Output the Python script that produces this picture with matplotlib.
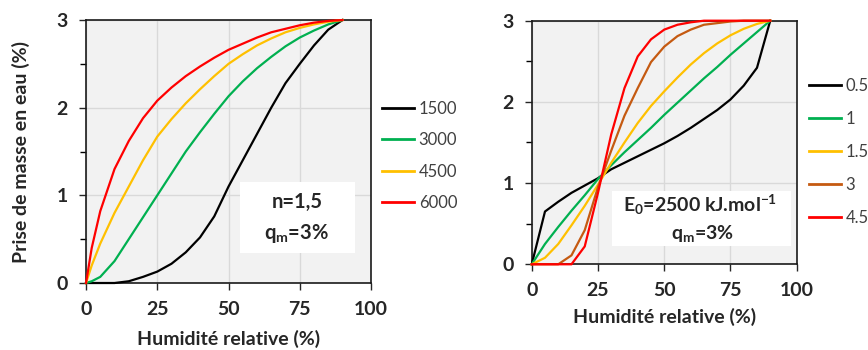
import matplotlib
matplotlib.use("Agg")
import matplotlib.pyplot as plt
from matplotlib.patches import Rectangle
from matplotlib.ticker import MultipleLocator

plt.rcParams["font.family"] = ["Lato", "DejaVu Sans"]
plt.rcParams["mathtext.fontset"] = "custom"
plt.rcParams["mathtext.rm"] = "Lato:bold"
plt.rcParams["mathtext.bf"] = "Lato:bold"
plt.rcParams["mathtext.it"] = "Lato:bold:italic"

# ---- left panel: n = 1.5, varying E0 ----
rh_left = [0, 2, 5, 10, 15, 20, 25, 30, 35, 40, 45, 50, 55, 60, 65, 70, 75, 80, 85, 90]
left_labels = ["1500", "3000", "4500", "6000"]
left_series = [
    [0, 0, 0, 0.0, 0.02, 0.07, 0.13, 0.22, 0.35, 0.52, 0.76, 1.1, 1.4, 1.7, 2.0, 2.28, 2.5, 2.71, 2.89, 3.0],
    [0, 0.02, 0.07, 0.25, 0.5, 0.75, 1.0, 1.25, 1.5, 1.72, 1.93, 2.13, 2.3, 2.45, 2.58, 2.7, 2.8, 2.88, 2.95, 3.0],
    [0, 0.2, 0.45, 0.8, 1.1, 1.4, 1.67, 1.87, 2.05, 2.21, 2.36, 2.5, 2.61, 2.71, 2.79, 2.86, 2.91, 2.95, 2.98, 3.0],
    [0, 0.4, 0.82, 1.3, 1.62, 1.88, 2.08, 2.23, 2.36, 2.47, 2.57, 2.66, 2.73, 2.8, 2.86, 2.9, 2.94, 2.97, 2.99, 3.0],
]
left_colors = ["#000000", "#00B050", "#FFC000", "#FF0000"]

# ---- right panel: E0 = 2500, varying n ----
rh_right = [0, 5, 10, 15, 20, 25, 30, 35, 40, 45, 50, 55, 60, 65, 70, 75, 80, 85, 90]
right_labels = ["0.5", "1", "1.5", "3", "4.5"]
right_series = [
    [0, 0.65, 0.77, 0.88, 0.97, 1.06, 1.17, 1.25, 1.33, 1.41, 1.49, 1.58, 1.68, 1.79, 1.9, 2.03, 2.2, 2.42, 3.0],
    [0, 0.25, 0.46, 0.66, 0.85, 1.05, 1.22, 1.38, 1.53, 1.68, 1.84, 1.99, 2.14, 2.29, 2.43, 2.58, 2.72, 2.86, 3.0],
    [0, 0.08, 0.25, 0.48, 0.72, 0.98, 1.25, 1.5, 1.74, 1.95, 2.13, 2.3, 2.46, 2.6, 2.72, 2.82, 2.9, 2.96, 3.0],
    [0, 0, 0, 0.11, 0.42, 0.95, 1.4, 1.83, 2.17, 2.49, 2.68, 2.81, 2.89, 2.95, 2.97, 2.99, 3.0, 3.0, 3.0],
    [0, 0, 0, 0, 0.22, 0.88, 1.6, 2.17, 2.56, 2.77, 2.89, 2.95, 2.98, 3.0, 3.0, 3.0, 3.0, 3.0, 3.0],
]
right_colors = ["#000000", "#00B050", "#FFC000", "#C55A11", "#FF0000"]

TICK_COLOR = "#262626"


def style_axes(ax):
    ax.set_facecolor("#F2F2F2")
    ax.set_xlim(0, 100)
    ax.set_ylim(0, 3)
    ax.xaxis.set_major_locator(MultipleLocator(25))
    ax.yaxis.set_major_locator(MultipleLocator(1))
    ax.yaxis.set_minor_locator(MultipleLocator(0.5))
    ax.grid(True, which="major", color="#D9D9D9", linewidth=1.0, zorder=0)
    ax.set_axisbelow(True)
    for sp in ax.spines.values():
        sp.set_color("#1a1a1a")
        sp.set_linewidth(1.2)
    ax.tick_params(axis="both", which="major", direction="out", length=5, width=1,
                   labelsize=14, colors=TICK_COLOR)
    ax.tick_params(axis="x", pad=8)
    ax.tick_params(axis="y", pad=8)
    ax.tick_params(axis="y", which="minor", direction="out", length=4, width=1)
    for lab in ax.get_xticklabels() + ax.get_yticklabels():
        lab.set_fontweight("bold")


fig = plt.figure(figsize=(8.68, 3.5), dpi=100)
ax1 = fig.add_axes([0.0991, 0.1914, 0.3283, 0.7514])
ax2 = fig.add_axes([0.6126, 0.2449, 0.3053, 0.696])

for ax in (ax1, ax2):
    style_axes(ax)

for vals, lab, col in zip(left_series, left_labels, left_colors):
    ax1.plot(rh_left, vals, color=col, linewidth=1.6, label=lab, zorder=3, clip_on=False)
for vals, lab, col in zip(right_series, right_labels, right_colors):
    ax2.plot(rh_right, vals, color=col, linewidth=1.6, label=lab, zorder=3, clip_on=False)

# annotation boxes
ax1.add_patch(Rectangle((54, 0.34), 40.4, 0.81, facecolor="white", edgecolor="none", zorder=2))
ax1.text(74, 0.93, "n=1,5", ha="center", va="center", fontsize=14.5, fontweight="bold",
         color=TICK_COLOR, zorder=4)
ax1.text(74, 0.57, "q$_\\mathrm{m}$=3%", ha="center", va="center", fontsize=14.5,
         fontweight="bold", color=TICK_COLOR, zorder=4)

ax2.add_patch(Rectangle((30.3, 0.225), 67.5, 0.675, facecolor="white", edgecolor="none", zorder=2))
ax2.text(63.5, 0.73, "E$_\\mathrm{0}$=2500 kJ.mol$^\\mathrm{-1}$", ha="center", va="center",
         fontsize=14, fontweight="bold", color=TICK_COLOR, zorder=4)
ax2.text(64.3, 0.38, "q$_\\mathrm{m}$=3%", ha="center", va="center", fontsize=14,
         fontweight="bold", color=TICK_COLOR, zorder=4)

# axis labels
ax1.set_ylabel("Prise de masse en eau (%)", fontsize=14, fontweight="bold", color=TICK_COLOR)
ax1.yaxis.set_label_coords(-0.196, 0.5)
ax1.set_xlabel("Humidité relative (%)", fontsize=14, fontweight="bold", color=TICK_COLOR)
ax1.xaxis.set_label_coords(0.5, -0.18)
ax2.set_xlabel("Humidité relative (%)", fontsize=14, fontweight="bold", color=TICK_COLOR)
ax2.xaxis.set_label_coords(0.5, -0.18)

# legends
leg1 = ax1.legend(loc="upper left", bbox_to_anchor=(382 / 868, 1 - 101 / 350),
                  bbox_transform=fig.transFigure, frameon=False, fontsize=12,
                  handlelength=1.9, handletextpad=0.3, labelspacing=0.92,
                  borderpad=0, borderaxespad=0)
leg2 = ax2.legend(loc="upper left", bbox_to_anchor=(809 / 868, 1 - 78 / 350),
                  bbox_transform=fig.transFigure, frameon=False, fontsize=12,
                  handlelength=1.9, handletextpad=0.3, labelspacing=1.02,
                  borderpad=0, borderaxespad=0)
for leg in (leg1, leg2):
    for t in leg.get_texts():
        t.set_color("#404040")
    for h in leg.get_lines():
        h.set_linewidth(2)

fig.savefig("out.png", dpi=100)
